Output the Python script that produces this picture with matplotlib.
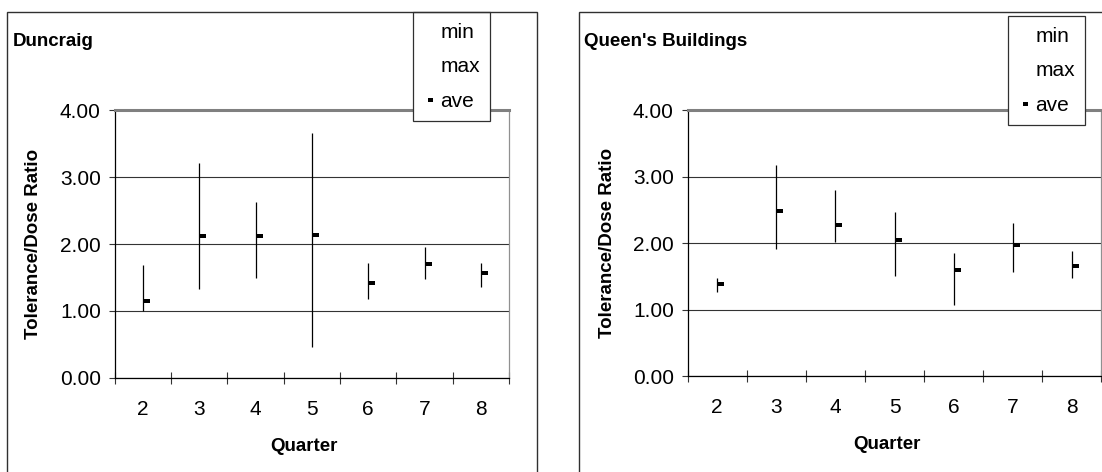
import matplotlib.pyplot as plt
from matplotlib.lines import Line2D
from matplotlib.patches import Rectangle

# values
quarters = [2, 3, 4, 5, 6, 7, 8]

duncraig_min = [1.00, 1.32, 1.49, 0.46, 1.18, 1.47, 1.35]
duncraig_max = [1.69, 3.21, 2.63, 3.66, 1.72, 1.96, 1.72]
duncraig_ave = [1.15, 2.12, 2.12, 2.14, 1.41, 1.70, 1.56]

queens_min = [1.27, 1.91, 2.02, 1.51, 1.07, 1.56, 1.48]
queens_max = [1.47, 3.17, 2.80, 2.47, 1.85, 2.30, 1.88]
queens_ave = [1.39, 2.48, 2.28, 2.05, 1.60, 1.97, 1.66]

y_ticks = [0, 1, 2, 3, 4]

plt.rcParams['font.family'] = ['Liberation Sans', 'DejaVu Sans']

W, H = 1102, 472
fig = plt.figure(figsize=(W / 100, H / 100), dpi=100)

# little dash drawn to the right of the high-low line (Excel "close" marker)
dash = [(0, -1), (3, -1), (3, 1), (0, 1), (0, -1)]


def px_axes(left, right, top, bottom):
    return fig.add_axes([left / W, 1 - bottom / H, (right - left) / W, (bottom - top) / H])


def panel(ax, mins, maxs, aves, title, title_x, frame_x0, frame_x1, leg_x, leg_y, lab_x, ylab_x):
    fig.add_artist(Rectangle((frame_x0 / W, -0.05), (frame_x1 - frame_x0) / W, 1.05 - 12.3 / H,
                             transform=fig.transFigure, fill=False, ec='#303030', lw=1.0))
    fig.text(title_x / W, 1 - 42 / H, title, fontsize=13.5, fontweight='bold', ha='left', va='center')

    ax.set_ylim(0, 4)
    ax.set_xlim(1.5, 8.5)
    ax.grid(axis='y', color='#333333', lw=0.8)
    ax.set_axisbelow(True)

    ax.vlines(quarters, mins, maxs, color='black', lw=0.9, label='_nolegend_')
    ax.plot(quarters, aves, ls='none', marker=dash, ms=10, mfc='black', mec='black', mew=0, label='ave')

    ax.set_yticks(y_ticks)
    ax.set_yticklabels(['%.2f' % v for v in y_ticks])
    ax.set_xticks(quarters)
    ax.set_xticks([q + 0.5 for q in [1] + quarters], minor=True)
    ax.tick_params(axis='x', which='major', length=0, pad=16, labelsize=15)
    ax.tick_params(axis='x', which='minor', direction='inout', length=8, width=0.8, color='#333333')
    ax.tick_params(axis='y', direction='out', length=4, width=0.8, pad=6, labelsize=15, color='#333333')

    for s in ['left', 'bottom']:
        ax.spines[s].set_color('black')
        ax.spines[s].set_linewidth(0.9)
    ax.spines['top'].set_color('#808080')
    ax.spines['top'].set_linewidth(2.2)
    ax.spines['right'].set_color('#909090')
    ax.spines['right'].set_linewidth(0.9)

    ax.set_xlabel('Quarter', fontsize=13.5, fontweight='bold')
    ax.xaxis.set_label_coords(lab_x, -0.259)
    ax.xaxis.label.set_va('center')
    ax.set_ylabel('Tolerance/Dose Ratio', fontsize=13.5, fontweight='bold')
    ax.yaxis.set_label_coords(ylab_x, 0.5)
    ax.yaxis.label.set_va('center')

    handles = [Line2D([], [], ls='none'), Line2D([], [], ls='none'),
               Line2D([], [], ls='none', marker=dash, ms=7, mfc='black', mec='black', mew=0)]
    leg = ax.legend(handles, ['min', 'max', 'ave'], loc='upper left',
                    bbox_to_anchor=(leg_x / W, 1 - leg_y / H), bbox_transform=fig.transFigure,
                    fontsize=15, frameon=True, fancybox=False, framealpha=1, edgecolor='#303030',
                    borderpad=0.5, labelspacing=0.75, handlelength=0.45, handletextpad=0.35,
                    borderaxespad=0)
    leg.get_frame().set_linewidth(0.9)
    leg.set_zorder(5)


ax1 = px_axes(114.7, 509, 110.3, 377.7)
panel(ax1, duncraig_min, duncraig_max, duncraig_ave, 'Duncraig', 12.7,
      7.3, 536.7, 413, 12.3, 0.48, -0.207)

ax2 = px_axes(687.7, 1101.3, 110.3, 376)
panel(ax2, queens_min, queens_max, queens_ave, "Queen's Buildings", 584.4,
      579, 1110, 1008, 16.3, 0.481, -0.195)

fig.savefig('out.png', dpi=100)
